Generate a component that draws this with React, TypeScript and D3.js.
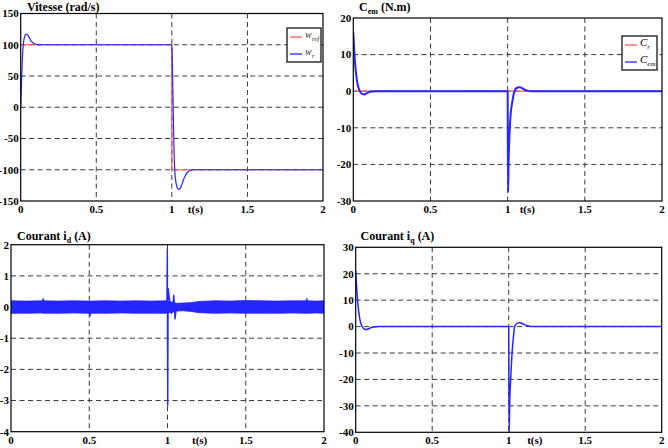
import React from "react";
import * as d3 from "d3";

const W = 668;
const H = 448;

// Shared time axis
const timeTicks = [0, 0.5, 1, 1.5, 2];
const timeTickLabels = ["0", "0.5", "1", "1.5", "2"];

// Rotor speed (rad/s): reference and measured
const speedTicks = [-150, -100, -50, 0, 50, 100, 150];
const wrefT = [0, 1, 1, 2];
const wrefV = [100, 100, -100, -100];
const wrT = [0, 0.004, 0.008, 0.012, 0.016, 0.02, 0.026, 0.033, 0.04, 0.047, 0.055, 0.065, 0.075, 0.085, 0.095, 0.105, 0.12, 0.14, 1.0,
  1.003, 1.007, 1.011, 1.015, 1.019, 1.025, 1.032, 1.04, 1.048, 1.057, 1.067, 1.077, 1.088, 1.1, 1.112, 1.125, 1.14, 2.0];
const wrV = [0, 28, 58, 82, 97, 106, 113, 116.5, 117, 115.5, 112, 107.5, 104.5, 102.5, 101.3, 100.6, 100.2, 100, 100,
  72, 25, -30, -75, -100, -117, -126, -130.5, -131.5, -129, -123, -116, -110, -105, -102.3, -100.8, -100, -100];

// Electromagnetic torque (N.m) and load torque
const torqueTicks = [-30, -20, -10, 0, 10, 20];
const crT = [0, 2];
const crV = [0, 0];
const cemT = [0, 0.005, 0.01, 0.02, 0.03, 0.04, 0.05, 0.06, 0.072, 0.085, 0.1, 0.12, 0.15, 1.0,
  1.001, 1.003, 1.006, 1.01, 1.014, 1.02, 1.03, 1.04, 1.05, 1.065, 1.08, 1.095, 1.11, 1.13, 1.15, 2.0];
const cemV = [16, 12, 8.5, 4, 1.5, 0.2, -0.5, -0.8, -0.9, -0.6, -0.3, -0.1, 0, 0,
  -14, -27.5, -20, -14, -10, -6, -3, -0.6, 0.5, 1.0, 1.1, 0.8, 0.45, 0.15, 0, 0];

// Direct-axis current (A): ripple envelope plus the reversal transient
const idTicks = [-4, -3, -2, -1, 0, 1, 2];
const idBandT = [0, 0.1, 0.2, 0.205, 0.21, 0.3, 0.4, 0.5, 0.505, 0.51, 0.6, 0.7, 0.8, 0.9, 0.99,
  1.06, 1.1, 1.15, 1.2, 1.3, 1.4, 1.5, 1.6, 1.7, 1.8, 1.885, 1.89, 1.895, 1.95, 2.0];
const idBandUp = [0.2, 0.19, 0.2, 0.28, 0.2, 0.19, 0.2, 0.19, 0.19, 0.19, 0.2, 0.19, 0.2, 0.19, 0.2,
  0.12, 0.13, 0.14, 0.18, 0.2, 0.19, 0.21, 0.2, 0.19, 0.2, 0.2, 0.28, 0.2, 0.19, 0.2];
const idBandLo = [-0.2, -0.2, -0.19, -0.2, -0.2, -0.2, -0.19, -0.2, -0.3, -0.2, -0.2, -0.19, -0.2, -0.2, -0.2,
  -0.13, -0.12, -0.14, -0.18, -0.2, -0.19, -0.2, -0.2, -0.2, -0.19, -0.2, -0.2, -0.2, -0.19, -0.2];
const idTrT = [0.996, 0.999, 1.0, 1.0015, 1.004, 1.01, 1.018, 1.025, 1.032, 1.04, 1.044, 1.048, 1.052, 1.058, 1.066];
const idTrV = [0, 1.85, -1, -3.15, 0.6, 0.35, 0.1, -0.2, -0.15, 0.38, 0.1, -0.38, -0.2, -0.05, 0];

// Quadrature-axis current (A)
const iqTicks = [-40, -30, -20, -10, 0, 10, 20, 30];
const iqT = [0, 0.005, 0.01, 0.02, 0.03, 0.04, 0.05, 0.06, 0.07, 0.085, 0.1, 0.12, 0.15, 1.0,
  1.001, 1.003, 1.007, 1.013, 1.022, 1.03, 1.039, 1.05, 1.07, 1.09, 1.11, 1.13, 1.16, 2.0];
const iqV = [21, 16, 11.5, 5.5, 2, 0.3, -0.6, -1.0, -1.1, -0.8, -0.4, -0.15, 0, 0,
  -20, -40.5, -28, -20, -10, -4.5, 0, 1.0, 1.5, 1.1, 0.6, 0.2, 0, 0];

const RED = "#ff5a5a";
const BLUE = "#2626ff";
const SERIF = "'Liberation Serif', 'Times New Roman', serif";

type Box = { left: number; right: number; top: number; bottom: number };
type Series =
  | { kind: "line"; t: number[]; v: number[]; color: string; width: number; smooth: boolean }
  | { kind: "band"; t: number[]; lo: number[]; hi: number[]; color: string };

type PanelProps = {
  id: string;
  box: Box;
  yDomain: [number, number];
  yTicks: number[];
  title: React.ReactNode;
  titleX: number;
  titleY: number;
  tLabelDx: number;
  series: Series[];
  legend?: { x: number; y: number; w: number; h: number; items: { color: string; label: React.ReactNode }[] };
};

function Panel(p: PanelProps) {
  const { box } = p;
  const x = d3.scaleLinear().domain([0, 2]).range([box.left, box.right]);
  const y = d3.scaleLinear().domain(p.yDomain).range([box.bottom, box.top]);
  const clip = `clip-${p.id}`;

  const paths = p.series.map((s, i) => {
    if (s.kind === "band") {
      const area = d3
        .area<number>()
        .x((_, j) => x(s.t[j]))
        .y0((_, j) => y(s.lo[j]))
        .y1((_, j) => y(s.hi[j]));
      return <path key={i} d={area(s.t) || ""} fill={s.color} stroke={s.color} strokeWidth={0.8} />;
    }
    const line = d3
      .line<number>()
      .x((_, j) => x(s.t[j]))
      .y((_, j) => y(s.v[j]))
      .curve(s.smooth ? d3.curveMonotoneX : d3.curveLinear);
    return (
      <path key={i} d={line(s.t) || ""} fill="none" stroke={s.color} strokeWidth={s.width}
        strokeLinejoin="round" />
    );
  });

  const innerX = timeTicks.filter((t) => t > 0 && t < 2);
  const innerY = p.yTicks.filter((v) => v > p.yDomain[0] && v < p.yDomain[1]);

  return (
    <g>
      <defs>
        <clipPath id={clip}>
          <rect x={box.left} y={box.top} width={box.right - box.left} height={box.bottom - box.top} />
        </clipPath>
      </defs>
      <rect x={box.left} y={box.top} width={box.right - box.left} height={box.bottom - box.top} fill="#fff" />
      {innerX.map((t) => (
        <line key={`gx${t}`} x1={x(t)} x2={x(t)} y1={box.top} y2={box.bottom}
          stroke="#3a3a3a" strokeWidth={1} strokeDasharray="5,3.5" />
      ))}
      {innerY.map((v) => (
        <line key={`gy${v}`} x1={box.left} x2={box.right} y1={y(v)} y2={y(v)}
          stroke="#3a3a3a" strokeWidth={1} strokeDasharray="5,3.5" />
      ))}
      <g clipPath={`url(#${clip})`}>{paths}</g>
      <rect x={box.left} y={box.top} width={box.right - box.left} height={box.bottom - box.top}
        fill="none" stroke="#000" strokeWidth={1.2} />
      {p.yTicks.map((v) => (
        <text key={`yl${v}`} x={box.left - 2} y={y(v)} dy="0.35em" textAnchor="end"
          fontFamily={SERIF} fontWeight="bold" fontSize={11}>{v}</text>
      ))}
      {timeTicks.map((t, i) => (
        <text key={`xl${t}`} x={x(t)} y={box.bottom + 12} textAnchor="middle"
          fontFamily={SERIF} fontWeight="bold" fontSize={11}>{timeTickLabels[i]}</text>
      ))}
      <text x={x(1) + p.tLabelDx} y={box.bottom + 12} fontFamily={SERIF} fontWeight="bold" fontSize={11}>t(s)</text>
      <text x={p.titleX} y={p.titleY} fontFamily={SERIF} fontWeight="bold" fontSize={12}>{p.title}</text>
      {p.legend && (
        <g>
          <rect x={p.legend.x} y={p.legend.y} width={p.legend.w} height={p.legend.h}
            fill="#fff" stroke="#000" strokeWidth={1.2} />
          {p.legend.items.map((it, i) => {
            const ly = p.legend!.y + 9 + i * (p.legend!.h - 17);
            return (
              <g key={i}>
                <line x1={p.legend!.x + 3} x2={p.legend!.x + 15} y1={ly} y2={ly} stroke={it.color} strokeWidth={1.3} />
                <text x={p.legend!.x + 18} y={ly + 1} fontFamily={SERIF} fontStyle="italic" fontSize={10}
                  fill="#333">{it.label}</text>
              </g>
            );
          })}
        </g>
      )}
    </g>
  );
}

export default function App() {
  return (
    <svg width={W} height={H} style={{ position: "absolute", left: 0, top: 0, background: "#fff" }}>
      <rect width={W} height={H} fill="#fff" />
      <Panel
        id="speed"
        box={{ left: 20.7, right: 323, top: 13.5, bottom: 201 }}
        yDomain={[-150, 150]}
        yTicks={speedTicks}
        title="Vitesse (rad/s)"
        titleX={27}
        titleY={10.8}
        tLabelDx={16}
        series={[
          { kind: "line", t: wrefT, v: wrefV, color: RED, width: 1.2, smooth: false },
          { kind: "line", t: wrT, v: wrV, color: BLUE, width: 1.2, smooth: true },
        ]}
        legend={{
          x: 287, y: 28, w: 34, h: 34,
          items: [
            { color: RED, label: <>w<tspan dy={3} fontSize={7}>ref</tspan></> },
            { color: BLUE, label: <>w<tspan dy={3} fontSize={7}>r</tspan></> },
          ],
        }}
      />
      <Panel
        id="torque"
        box={{ left: 353.3, right: 662, top: 18, bottom: 201 }}
        yDomain={[-30, 20]}
        yTicks={torqueTicks}
        title={<>C<tspan dy={3} fontSize={8}>em</tspan><tspan dy={-3}> (N.m)</tspan></>}
        titleX={359}
        titleY={10.5}
        tLabelDx={12}
        series={[
          { kind: "line", t: crT, v: crV, color: RED, width: 1.2, smooth: false },
          { kind: "line", t: cemT, v: cemV, color: BLUE, width: 2, smooth: true },
        ]}
        legend={{
          x: 622, y: 36, w: 35, h: 34,
          items: [
            { color: RED, label: <tspan fontSize={11} fill="#000">C<tspan dy={3} fontSize={7}>r</tspan></tspan> },
            { color: BLUE, label: <tspan fontSize={11} fill="#000">C<tspan dy={3} fontSize={7}>em</tspan></tspan> },
          ],
        }}
      />
      <Panel
        id="id"
        box={{ left: 11, right: 324, top: 244.7, bottom: 431.7 }}
        yDomain={[-4, 2]}
        yTicks={idTicks}
        title={<>Courant i<tspan dy={3} fontSize={8}>d</tspan><tspan dy={-3}> (A)</tspan></>}
        titleX={17}
        titleY={240}
        tLabelDx={24.5}
        series={[
          { kind: "band", t: idBandT, lo: idBandLo, hi: idBandUp, color: BLUE },
          { kind: "line", t: idTrT, v: idTrV, color: BLUE, width: 1.4, smooth: false },
        ]}
      />
      <Panel
        id="iq"
        box={{ left: 355.7, right: 661.7, top: 247.3, bottom: 432.3 }}
        yDomain={[-40, 30]}
        yTicks={iqTicks}
        title={<>Courant i<tspan dy={3} fontSize={8}>q</tspan><tspan dy={-3}> (A)</tspan></>}
        titleX={360.5}
        titleY={239.5}
        tLabelDx={18.5}
        series={[
          { kind: "line", t: iqT, v: iqV, color: BLUE, width: 1.5, smooth: true },
        ]}
      />
    </svg>
  );
}
